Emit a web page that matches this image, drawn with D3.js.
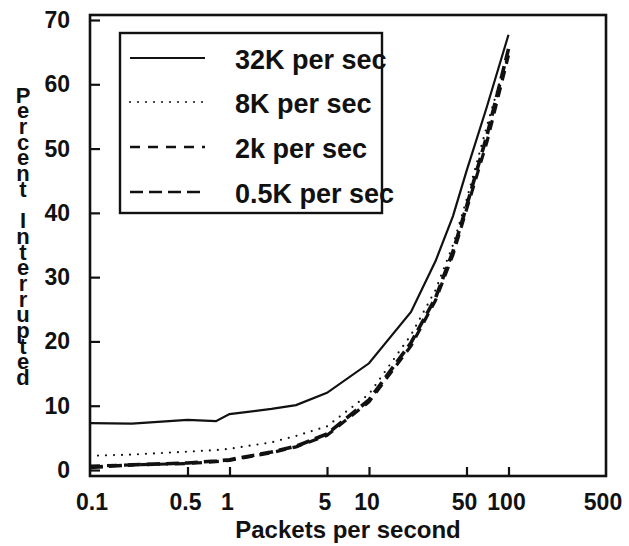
<!DOCTYPE html>
<html>
<head>
<meta charset="utf-8">
<script src="https://cdn.jsdelivr.net/npm/d3@7"></script>
<style>
  html, body { margin: 0; padding: 0; background: #fff; }
  svg { display: block; }
  text { font-family: "Liberation Sans", Arial, sans-serif; font-weight: bold; fill: #111; }
</style>
</head>
<body>
<svg id="chart" width="629" height="546"></svg>
<script>
// Packet rate (packets per second) against percent of transfers interrupted
const rates = [0.1, 0.2, 0.5, 0.8, 1, 2, 3, 5, 10, 20, 30, 40, 50, 70, 100];
const seriesNames = ["32K per sec", "8K per sec", "2k per sec", "0.5K per sec"];
const pct32K  = [7.3, 7.2, 7.8, 7.6, 8.7, 9.5, 10.1, 12.0, 16.6, 24.6, 32.5, 39.5, 46.5, 56.5, 67.7];
const pct8K   = [2.2, 2.4, 2.85, 3.1, 3.3, 4.3, 5.3, 6.8, 11.8, 21.0, 28.0, 35.0, 42.0, 53.5, 65.0];
const pct2k   = [0.6, 0.8, 1.0, 1.3, 1.5, 2.7, 3.6, 5.4, 10.6, 19.3, 26.4, 33.5, 40.5, 51.0, 64.5];
const pct05K  = [0.4, 0.8, 1.1, 1.4, 1.6, 2.8, 3.7, 5.6, 10.9, 19.8, 26.8, 34.0, 41.0, 52.0, 65.5];
const xTickValues = [0.1, 0.5, 1, 5, 10, 50, 100, 500];
const xTickLabels = ["0.1", "0.5", "1", "5", "10", "50", "100", "500"];
const yTickValues = [0, 10, 20, 30, 40, 50, 60, 70];
const xTitle = "Packets per second";
const yTitle = "Percent Interrupted";

const svg = d3.select("#chart");

// plot frame
const frame = { left: 90, right: 606, top: 15, bottom: 476 };
const x = d3.scaleLog().domain([0.1, 500]).range([frame.left, frame.right]);
const y = d3.scaleLinear().domain([0, 70]).range([470, 20]);

svg.append("rect")
  .attr("x", frame.left).attr("y", frame.top)
  .attr("width", frame.right - frame.left).attr("height", frame.bottom - frame.top)
  .attr("fill", "none").attr("stroke", "#111").attr("stroke-width", 2.6);

// y axis: inward ticks, labels on the left
const yAxis = d3.axisRight(y).tickValues(yTickValues).tickSize(10).tickFormat("");
const gy = svg.append("g").attr("transform", `translate(${frame.left},0)`).call(yAxis);
gy.select(".domain").remove();
gy.selectAll(".tick line").attr("stroke", "#111").attr("stroke-width", 2.2);
svg.append("g").selectAll("text").data(yTickValues).join("text")
  .attr("x", 70).attr("y", d => y(d))
  .attr("text-anchor", "end").attr("dominant-baseline", "central")
  .attr("font-size", 23).text(d => d);

// x axis: inward ticks, labels below
const xAxis = d3.axisTop(x).tickValues(xTickValues.slice(1, -1)).tickSize(9).tickFormat("");
const gx = svg.append("g").attr("transform", `translate(0,${frame.bottom})`).call(xAxis);
gx.select(".domain").remove();
gx.selectAll(".tick line").attr("stroke", "#111").attr("stroke-width", 2.2);
svg.append("g").selectAll("text").data(xTickValues).join("text")
  .attr("x", (d, i) => x(d) + (i === 0 ? 2 : i === xTickValues.length - 1 ? -3 : -2))
  .attr("y", 510)
  .attr("text-anchor", "middle")
  .attr("font-size", 23).text((d, i) => xTickLabels[i]);

// axis titles
svg.append("text").attr("x", 348).attr("y", 538)
  .attr("text-anchor", "middle").attr("font-size", 24).text(xTitle);

// vertical title: upright letters stacked top to bottom
const yChars = yTitle.split("");
const yStep = 15.7;
svg.append("g").selectAll("text").data(yChars).join("text")
  .attr("x", 23).attr("y", (d, i) => 95 + i * yStep)
  .attr("text-anchor", "middle").attr("dominant-baseline", "central")
  .attr("font-size", 22).text(d => d);

// series lines
const styles = [
  { width: 2.2, dash: null, cap: "butt" },
  { width: 2.2, dash: "0,8", cap: "round" },
  { width: 3.2, dash: "10,7", cap: "butt" },
  { width: 3.6, dash: "13,6", cap: "butt" }
];
const allSeries = [pct32K, pct8K, pct2k, pct05K];
const line = d3.line().x(d => x(d[0])).y(d => y(d[1])).curve(d3.curveLinear);

allSeries.forEach((vals, k) => {
  const pts = rates.map((r, i) => [r, vals[i]]);
  svg.append("path").datum(pts)
    .attr("d", line)
    .attr("fill", "none").attr("stroke", "#111")
    .attr("stroke-width", styles[k].width)
    .attr("stroke-linecap", styles[k].cap)
    .attr("stroke-dasharray", styles[k].dash);
});

// legend
const legend = svg.append("g");
legend.append("rect").attr("x", 120).attr("y", 33).attr("width", 262).attr("height", 180)
  .attr("fill", "#fff").attr("stroke", "#111").attr("stroke-width", 2.4);
const legendRows = [58, 102, 147, 192];
seriesNames.forEach((name, k) => {
  legend.append("line")
    .attr("x1", 130).attr("x2", 205).attr("y1", legendRows[k]).attr("y2", legendRows[k])
    .attr("stroke", "#111")
    .attr("stroke-width", k === 1 ? 2 : (k === 0 ? 2.2 : 2.6))
    .attr("stroke-linecap", styles[k].cap)
    .attr("stroke-dasharray", k === 1 ? "0,8" : (k === 2 ? "10,8" : (k === 3 ? "13,6" : null)));
  legend.append("text").attr("x", 235).attr("y", legendRows[k] + 11)
    .attr("font-size", 27).text(name);
});
</script>
</body>
</html>
